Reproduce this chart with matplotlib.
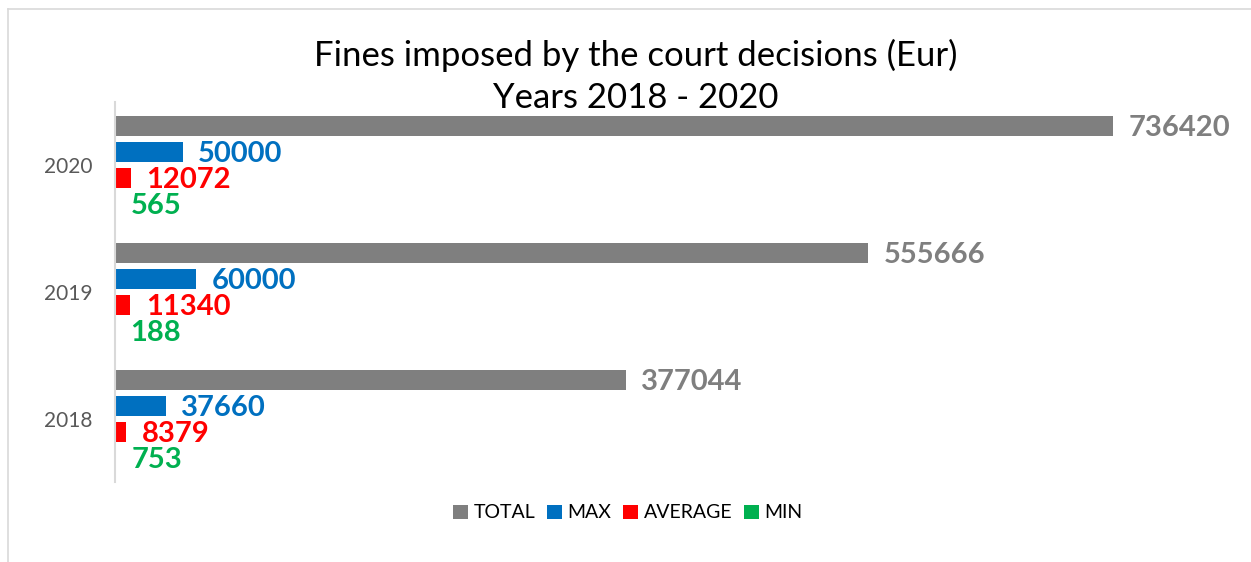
import matplotlib.pyplot as plt
from matplotlib.lines import Line2D
import numpy as np

plt.rcParams['font.family'] = ['Lato', 'DejaVu Sans']

years = ["2018", "2019", "2020"]
series = ["TOTAL", "MAX", "AVERAGE", "MIN"]
total = [377044, 555666, 736420]
maxv = [37660, 60000, 50000]
average = [8379, 11340, 12072]
minv = [753, 188, 565]
colors = ["#7F7F7F", "#0070C0", "#FF0000", "#00B050"]

W, H = 1251, 562
fig = plt.figure(figsize=(W / 100, H / 100), dpi=100)
ax = fig.add_axes([115 / W, (H - 482) / H, (1113 - 115) / W, 380 / H])

y = np.arange(len(years))
slot = 0.205
height = 0.157
values = [total, maxv, average, minv]
offsets = [1.5, 0.5, -0.5, -1.5]
for vals, off, col, name in zip(values, offsets, colors, series):
    bars = ax.barh(y + off * slot, vals, height=height, color=col, label=name)
    for b, v in zip(bars, vals):
        ax.annotate(str(v), (b.get_width(), b.get_y() + b.get_height() / 2),
                    xytext=(11, -1.5), textcoords="offset points", va="center",
                    ha="left", fontsize=21, fontweight="bold", color=col,
                    annotation_clip=False)

ax.set_xlim(0, max(total))
ax.set_ylim(-0.5, 2.5)
ax.set_yticks(y)
ax.set_yticklabels(years, fontsize=15, color="#595959")
ax.tick_params(axis="y", length=0, pad=16)
ax.set_xticks([])
for s in ["top", "right", "bottom"]:
    ax.spines[s].set_visible(False)
ax.spines["left"].set_color("#D9D9D9")
ax.spines["left"].set_linewidth(1.5)

fig.text(636 / W, 1 - 55 / H, "Fines imposed by the court decisions (Eur)",
         ha="center", va="center", fontsize=25)
fig.text(636 / W, 1 - 98 / H, "Years 2018 - 2020",
         ha="center", va="center", fontsize=25)

fig.legend(loc="center", bbox_to_anchor=(628 / W, 1 - 513 / H), ncol=4,
           frameon=False, fontsize=14, handlelength=0.75, handleheight=0.75,
           handletextpad=0.3, columnspacing=0.6)

# chart area border (top and left visible in the crop)
fig.add_artist(Line2D([8 / W, 8 / W], [0, 1 - 9 / H], color="#D9D9D9", lw=1.2,
                      transform=fig.transFigure))
fig.add_artist(Line2D([8 / W, 1], [1 - 9 / H, 1 - 9 / H], color="#D9D9D9", lw=1.2,
                      transform=fig.transFigure))

fig.savefig("out.png", dpi=100)
